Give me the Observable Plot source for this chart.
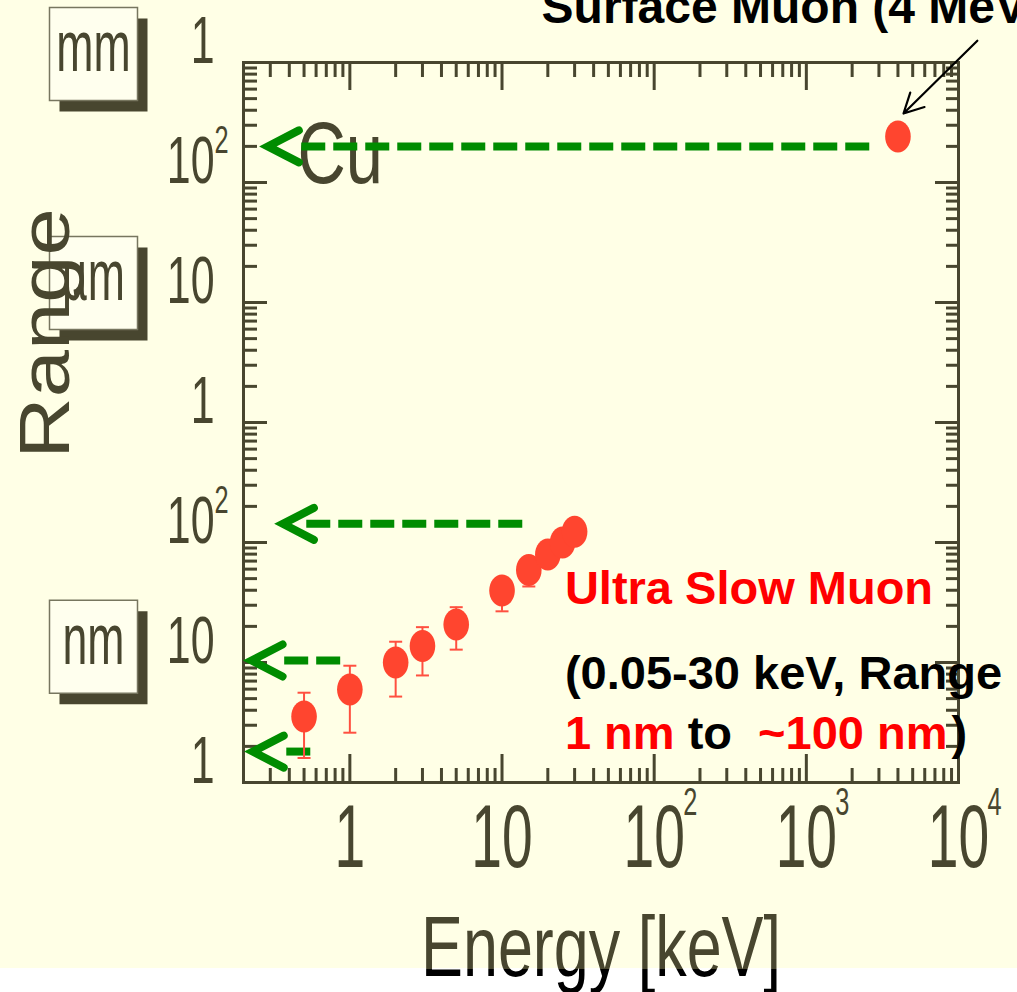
<!DOCTYPE html>
<html>
<head>
<meta charset="utf-8">
<script src="https://cdn.jsdelivr.net/npm/d3@7"></script>
<script src="https://cdn.jsdelivr.net/npm/@observablehq/plot@0.6"></script>
<style>
  html, body { margin: 0; padding: 0; background: #ffffff; }
  #chart svg { display: block; }
</style>
</head>
<body>
<div id="chart"></div>
<script>
// ---------------- data ----------------
const energyKeV   = [0.5, 1, 2, 3, 5, 10, 15, 20, 25, 30];
const rangeNm     = [3.55, 5.96, 10.0, 13.7, 20.7, 39.8, 59, 79.4, 100, 123];
const rangeLoNm   = [1.6, 2.6, 5.2, 7.8, 12.8, 26.7, 43, 66, 84, 104];
const rangeHiNm   = [5.6, 9.4, 14.9, 19.7, 28.9, 45, 68, 95, 118, 145];

const surfaceEnergyKeV = [4000];
const surfaceRangeNm   = [2.42e5];

// green "range" arrows (Cu, ~100 nm, 10 nm, 1 nm)
const arrowRangeNm = [2.0e5, 143, 10.4, 1.81];
const arrowTipKeV  = [0.289, 0.363, 0.226, 0.23];
const arrowFromKeV = [0.483, 0.521, 0.373, 0.385];
const arrowToKeV   = [2637, 13.7, 0.885, 0.562];

const xTickValues    = [1, 10, 100, 1000, 10000];
const xTickLabels    = ["1", "10", "10", "10", "10"];
const xTickExponents = ["", "", "2", "3", "4"];

const yTickValues    = [1, 10, 100, 1e3, 1e4, 1e5, 1e6];
const yTickLabels    = ["1", "10", "10", "1", "10", "10", "1"];
const yTickExponents = ["", "", "2", "", "", "2", ""];

const unitNames = ["nm", "µm", "mm"];
const unitAtNm  = [13.5, 14540, 1.178e6];

// ---------------- derived tables ----------------
const usm = energyKeV.map((e, i) => ({e, r: rangeNm[i], lo: rangeLoNm[i], hi: rangeHiNm[i]}));
const surface = surfaceEnergyKeV.map((e, i) => ({e, r: surfaceRangeNm[i]}));
const arrows = arrowRangeNm.map((y, i) => ({y, tip: arrowTipKeV[i], from: arrowFromKeV[i], to: arrowToKeV[i]}));
const xIdx = xTickValues.map((_, i) => i);
const yIdx = yTickValues.map((_, i) => i);
const xExpIdx = xIdx.filter(i => xTickExponents[i]);
const yExpIdx = yIdx.filter(i => yTickExponents[i]);
const unitIdx = unitNames.map((_, i) => i);

const xMinor = [], yMinor = [];
for (let e = -1; e < 4; e++) for (let m = 2; m < 10; m++) { const v = m * 10 ** e; if (v > 0.2 && v < 1e4) xMinor.push(v); }
for (let e = 0; e < 6; e++) for (let m = 2; m < 10; m++) yMinor.push(m * 10 ** e);

// ---------------- layout & styles ----------------
const W = 1017, H = 992, mL = 243, mR = 59, mT = 62, mB = 210;
const pw = W - mL - mR, ph = H - mT - mB;
const olive = "#48462F";
const green = "#008C00";
const dotRed = "#FF452F";
const errRed = "#FF5040";
const font = "Liberation Sans, Arial, Helvetica, sans-serif";

// custom symbols
const ellipse = {draw(ctx, size) {
  const r = Math.sqrt(size / Math.PI), rx = r * 0.8, ry = r, k = 0.5523;
  ctx.moveTo(rx, 0);
  ctx.bezierCurveTo(rx, ry * k, rx * k, ry, 0, ry);
  ctx.bezierCurveTo(-rx * k, ry, -rx, ry * k, -rx, 0);
  ctx.bezierCurveTo(-rx, -ry * k, -rx * k, -ry, 0, -ry);
  ctx.bezierCurveTo(rx * k, -ry, rx, -ry * k, rx, 0);
  ctx.closePath();
}};
const chevron = {draw(ctx) { ctx.moveTo(31, -16); ctx.lineTo(0, 0); ctx.lineTo(31, 16); }};
const cap = {draw(ctx) { ctx.moveTo(-6.5, 0); ctx.lineTo(6.5, 0); }};
const box = {draw(ctx) { ctx.rect(-44, -46.5, 88, 93); }};

const tickStyle = {stroke: olive, strokeWidth: 3};
const chartText = {fill: olive, fontFamily: font};
const boldText = {fontFamily: font, fontWeight: "bold", fontSize: 47, textAnchor: "start", lineAnchor: "bottom"};

const plot = Plot.plot({
  width: W, height: H,
  marginLeft: mL, marginRight: mR, marginTop: mT, marginBottom: mB,
  x: {type: "log", domain: [0.2, 1e4], axis: null},
  y: {type: "log", domain: [1, 1e6], axis: null},
  marks: [
    // unit boxes (shadow + box)
    Plot.dot(unitIdx, {y: i => unitAtNm[i], frameAnchor: "left", dx: -140, dy: 11, symbol: box, r: 10, fill: olive, stroke: "none"}),
    Plot.dot(unitIdx, {y: i => unitAtNm[i], frameAnchor: "left", dx: -150, symbol: box, r: 10, fill: "#FFFFEE", stroke: "#77765F", strokeWidth: 1.5}),
    Plot.text(unitIdx, {y: i => unitAtNm[i], text: i => unitNames[i], frameAnchor: "left", dx: -150, dy: 17,
      textAnchor: "middle", lineAnchor: "bottom", fontSize: 72, ...chartText, ariaDescription: "sx0.62"}),

    // ticks (inward)
    Plot.ruleX(xTickValues, {...tickStyle, insetTop: ph - 28}),
    Plot.ruleX(xMinor, {...tickStyle, insetTop: ph - 14}),
    Plot.ruleX(xTickValues, {...tickStyle, insetBottom: ph - 28}),
    Plot.ruleX(xMinor, {...tickStyle, insetBottom: ph - 15}),
    Plot.ruleY(yTickValues, {...tickStyle, insetRight: pw - 24}),
    Plot.ruleY(yMinor, {...tickStyle, insetRight: pw - 14}),
    Plot.ruleY(yTickValues, {...tickStyle, insetLeft: pw - 23}),
    Plot.ruleY(yMinor, {...tickStyle, insetLeft: pw - 12}),
    Plot.frame({stroke: olive, strokeWidth: 3}),

    // tick labels
    Plot.text(xIdx, {x: i => xTickValues[i], text: i => xTickLabels[i], frameAnchor: "bottom", dy: 21,
      textAnchor: "middle", lineAnchor: "top", fontSize: 89, ...chartText, ariaDescription: "sx0.62"}),
    Plot.text(xExpIdx, {x: i => xTickValues[i], text: i => xTickExponents[i], frameAnchor: "bottom", dx: 29, dy: 5,
      textAnchor: "start", lineAnchor: "top", fontSize: 39, ...chartText, ariaDescription: "sx0.65"}),
    Plot.text(yIdx, {y: i => yTickValues[i], text: i => yTickLabels[i], frameAnchor: "left", dx: -29,
      textAnchor: "end", lineAnchor: "bottom", fontSize: 67, ...chartText, ariaDescription: "sx0.64"}),
    Plot.text(yExpIdx, {y: i => yTickValues[i], text: i => yTickExponents[i], frameAnchor: "left", dx: -29, dy: -30,
      textAnchor: "start", lineAnchor: "bottom", fontSize: 39, ...chartText, ariaDescription: "sx0.65"}),

    // axis titles
    Plot.text(["Range"], {text: d => d, frameAnchor: "left", dx: -175, dy: -89, rotate: -90,
      textAnchor: "middle", lineAnchor: "bottom", fontSize: 85, ...chartText, ariaDescription: "sx0.83"}),
    Plot.text(["Energy [keV]"], {text: d => d, frameAnchor: "bottom", dy: 193,
      textAnchor: "middle", lineAnchor: "bottom", fontSize: 85, ...chartText, ariaDescription: "sx0.74"}),

    // Cu label
    Plot.text(["Cu"], {x: () => 0.453, y: () => 1e5, text: d => d, textAnchor: "start", lineAnchor: "bottom",
      fontSize: 88, ...chartText, ariaDescription: "sx0.76"}),

    // green dashed arrows
    Plot.ruleY(arrows, {y: "y", x1: "from", x2: "to", stroke: green, strokeWidth: 8, strokeDasharray: "24,8"}),
    Plot.dot(arrows, {x: "tip", y: "y", symbol: chevron, r: 10, fill: "none", stroke: green, strokeWidth: 8,
      strokeLinecap: "round", strokeLinejoin: "miter"}),

    // ultra slow muon data
    Plot.ruleX(usm, {x: "e", y1: "lo", y2: "hi", stroke: errRed, strokeWidth: 2}),
    Plot.dot(usm, {x: "e", y: "lo", symbol: cap, r: 5, fill: "none", stroke: errRed, strokeWidth: 2}),
    Plot.dot(usm, {x: "e", y: "hi", symbol: cap, r: 5, fill: "none", stroke: errRed, strokeWidth: 2}),
    Plot.dot(usm, {x: "e", y: "r", symbol: ellipse, r: 16, fill: dotRed, stroke: "none"}),

    // surface muon
    Plot.dot(surface, {x: "e", y: "r", symbol: ellipse, r: 16, fill: dotRed, stroke: "none"}),
    Plot.arrow([{x1: 13300, y1: 1.52e6, x2: 4350, y2: 3.76e5}],
      {x1: "x1", y1: "y1", x2: "x2", y2: "y2", stroke: "black", strokeWidth: 2.2, headLength: 15, headAngle: 55}),

    // annotations
    Plot.text(["Surface Muon (4 MeV)"], {x: () => 18.2, y: () => 2.15e6, text: d => d, ...boldText, fontSize: 48, fill: "black"}),
    Plot.text(["Ultra Slow Muon"], {x: () => 25.9, y: () => 31.0, text: d => d, ...boldText, fill: "#FF0000"}),
    Plot.text(["(0.05-30 keV, Range"], {x: () => 25.9, y: () => 6.07, text: d => d, ...boldText, fill: "black"}),
    Plot.text(["1 nm"], {x: () => 25.9, y: () => 1.92, text: d => d, ...boldText, fill: "#FF0000"}),
    Plot.text(["to"], {x: () => 166, y: () => 1.92, text: d => d, ...boldText, fill: "black"}),
    Plot.text(["~100 nm"], {x: () => 482, y: () => 1.92, text: d => d, ...boldText, fill: "#FF0000"}),
    Plot.text([")"], {x: () => 9000, y: () => 1.92, text: d => d, ...boldText, fill: "black"})
  ]
});

plot.style.background = "linear-gradient(to bottom, #FFFFE6 0px, #FFFFE6 968px, #ffffff 968px)";
plot.style.maxWidth = "none";

// horizontally condense the chart's narrow-font texts
plot.querySelectorAll("g[aria-description^='sx']").forEach(g => {
  const s = +g.getAttribute("aria-description").slice(2);
  g.querySelectorAll("text").forEach(t => {
    let tr = t.getAttribute("transform") || "";
    const x = +(t.getAttribute("x") || 0), y = +(t.getAttribute("y") || 0);
    if (x || y) { tr += ` translate(${x},${y})`; t.removeAttribute("x"); t.removeAttribute("y"); }
    tr += /rotate/.test(tr) ? ` scale(1,${s})` : ` scale(${s},1)`;
    t.setAttribute("transform", tr);
  });
});

// the x-axis title runs past the tinted area: below it the glyphs are black
const ns = "http://www.w3.org/2000/svg";
const defs = document.createElementNS(ns, "defs");
const grad = document.createElementNS(ns, "linearGradient");
grad.setAttribute("id", "energy-title-fill");
grad.setAttribute("gradientUnits", "userSpaceOnUse");
grad.setAttribute("x1", "0"); grad.setAttribute("x2", "0");
grad.setAttribute("y1", "-100"); grad.setAttribute("y2", "100");
[[0, olive], [0.465, olive], [0.465, "#000000"], [1, "#000000"]].forEach(([o, c]) => {
  const s = document.createElementNS(ns, "stop");
  s.setAttribute("offset", o); s.setAttribute("stop-color", c);
  grad.appendChild(s);
});
defs.appendChild(grad);
plot.insertBefore(defs, plot.firstChild);
plot.querySelectorAll("text").forEach(t => {
  if (t.textContent === "Energy [keV]") { t.setAttribute("fill", "url(#energy-title-fill)"); t.parentNode.removeAttribute("fill"); }
});

document.getElementById("chart").appendChild(plot);
</script>
</body>
</html>
